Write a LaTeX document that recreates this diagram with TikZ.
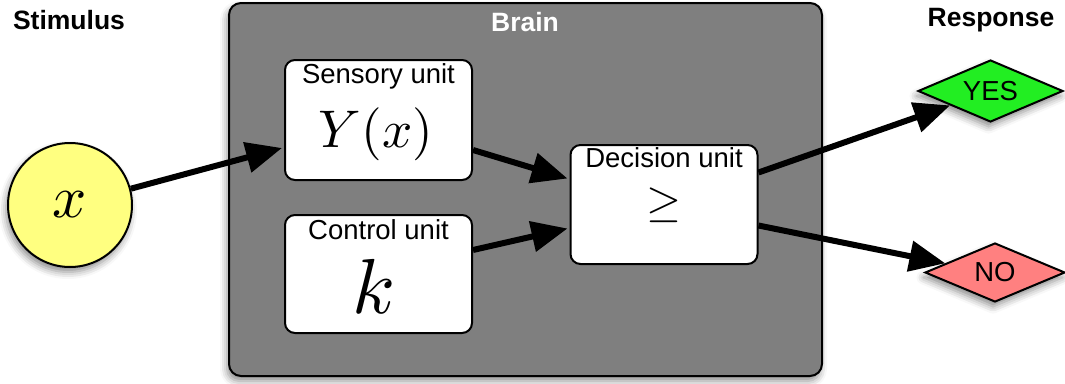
\documentclass[tikz,border=0pt]{standalone}
\usepackage{graphicx}
\usepackage{fontspec}
\setmainfont{Liberation Sans}
\usetikzlibrary{shapes.geometric,arrows.meta,calc,shadows.blur}
\definecolor{braingray}{RGB}{127,127,127}
\definecolor{stimyellow}{RGB}{255,255,128}
\definecolor{yesgreen}{RGB}{34,238,34}
\definecolor{nored}{RGB}{255,128,128}
\tikzset{
  softshadow/.style={blur shadow={shadow xshift=-2pt,shadow yshift=-5pt,shadow blur radius=7pt,shadow opacity=45}},
  unitbox/.style={draw=black,line width=2pt,fill=white,rounded corners=10pt,minimum width=187pt,minimum height=120pt,inner sep=0pt},
  unitlabel/.style={font=\fontsize{27.5}{30}\selectfont,inner sep=0pt},
  heading/.style={font=\fontsize{26.5}{30}\selectfont\bfseries,inner sep=0pt},
  answer/.style={diamond,aspect=2.3,draw=black,line width=2pt,inner sep=0pt,minimum width=145pt,minimum height=62pt,font=\fontsize{27.5}{30}\selectfont,softshadow},
  bigarrow/.style={line width=6pt,-{Triangle[length=36pt,width=30pt]}}
}
\begin{document}
\begin{tikzpicture}[x=1pt,y=-1pt]
\useasboundingbox (0,0) rectangle (1065,383);
% brain
\node[draw=black,line width=2pt,fill=braingray,rounded corners=12pt,minimum width=593pt,minimum height=373pt,inner sep=0pt,softshadow] (brain) at (525.5,189.5) {};
\node[heading,text=white] (brainlbl) at (525,22) {Brain};
\node[heading] (stimlbl) at (69,20) {Stimulus};
\node[heading] (resplbl) at (991,20) {Response};
% stimulus
\node[circle,draw=black,line width=2pt,fill=stimyellow,minimum size=124pt,inner sep=0pt,softshadow] (x) at (70,205) {\scalebox{6}{$x$}};
% units
\node[unitbox] (sens) at (378.5,120) {};
\node[unitlabel] (senslbl) at (378.5,76) {Sensory unit};
\node[inner sep=0pt] (sensmath) at (376,134) {\scalebox{5.3}{$Y(x)$}};
\node[unitbox,minimum height=118pt] (ctrl) at (378.5,274) {};
\node[unitlabel] (ctrllbl) at (378.5,230) {Control unit};
\node[inner sep=0pt] (ctrlmath) at (374,286) {\scalebox{7.8}{$k$}};
\node[unitbox,minimum height=119pt] (dec) at (664,204.5) {};
\node[unitlabel] (declbl) at (664,158) {Decision unit};
\node[inner sep=0pt] (decmath) at (664,205.5) {\scalebox{4.5}{$\geq$}};
% responses
\node[answer,fill=yesgreen] (yes) at (990.5,91) {YES};
\node[answer,fill=nored,minimum width=140pt,minimum height=59pt] (no) at (995,272.5) {NO};
% arrows
\draw[bigarrow] (x.15) -- ($(sens.west)+(-2,28)$);
\draw[bigarrow] ($(sens.east)+(0,30)$) -- ($(dec.west)+(-2,-26)$);
\draw[bigarrow] ($(ctrl.east)+(0,-24)$) -- ($(dec.west)+(-2,24)$);
\draw[bigarrow] ($(dec.east)+(0,-32)$) -- ($(yes.west)!0.45!(yes.south)$);
\draw[bigarrow] ($(dec.east)+(0,21)$) -- ($(no.west)!0.3!(no.north)$);
\end{tikzpicture}
\end{document}
